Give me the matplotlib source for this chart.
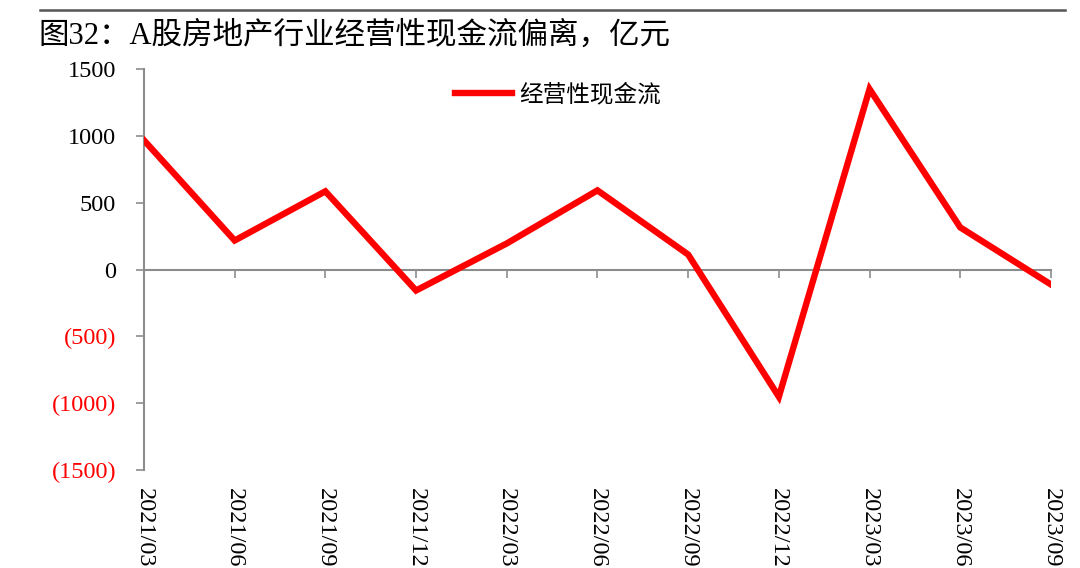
import matplotlib
matplotlib.use("Agg")
import matplotlib.pyplot as plt
from matplotlib.lines import Line2D

periods = ["2021/03", "2021/06", "2021/09", "2021/12", "2022/03", "2022/06",
           "2022/09", "2022/12", "2023/03", "2023/06", "2023/09"]
cash_flow = [967, 217, 585, -157, 195, 592, 112, -952, 1350, 315, -112]
y_ticks = [1500, 1000, 500, 0, -500, -1000, -1500]
y_labels = ["1500", "1000", "500", "0", "(500)", "(1000)", "(1500)"]

serif_cjk = ["Liberation Serif", "Noto Sans CJK SC"]
sans_cjk = ["Noto Sans CJK SC", "DejaVu Sans"]
grey = "#8c8c8c"

fig = plt.figure(figsize=(10.8, 5.68), dpi=100)
ax = fig.add_axes([0.1333, 0.1725, 0.9731 - 0.1333, 0.8785 - 0.1725])

x = list(range(len(periods)))
ax.plot(x, cash_flow, color="#ff0000", lw=4.6, label="经营性现金流",
        solid_joinstyle="miter", zorder=3)

ax.set_xlim(0, len(periods) - 1)
ax.set_ylim(-1500, 1500)

# y axis
ax.set_yticks(y_ticks)
ax.set_yticklabels(y_labels, family="Liberation Serif", fontsize=17.5)
for lab, v in zip(ax.get_yticklabels(), y_ticks):
    lab.set_color("#ff0000" if v < 0 else "black")
ax.tick_params(axis="y", direction="out", length=6, width=1.2, color=grey, pad=14)

for s in ["top", "right"]:
    ax.spines[s].set_visible(False)
ax.spines["left"].set_color(grey)
ax.spines["left"].set_linewidth(1.5)

# zero line with ticks
ax.spines["bottom"].set_position(("data", 0))
ax.spines["bottom"].set_color(grey)
ax.spines["bottom"].set_linewidth(1.5)
ax.set_xticks(x)
ax.set_xticklabels([])
ax.tick_params(axis="x", direction="out", length=6, width=1.2, color=grey)

# labels at the bottom
sec = ax.secondary_xaxis(0)
sec.spines["bottom"].set_visible(False)
sec.set_xticks(x)
sec.set_xticklabels(periods, rotation=270, family="Liberation Serif", fontsize=17.5)
sec.tick_params(axis="x", length=0, pad=13)

ax.legend(handles=[Line2D([0], [0], color="#ff0000", lw=4.6)],
          labels=["经营性现金流"], loc="center left",
          bbox_to_anchor=(455 / 1080, 1 - 95 / 568), bbox_transform=fig.transFigure,
          frameon=False, handlelength=2.4, handletextpad=0.3, borderpad=0,
          borderaxespad=0, prop={"family": sans_cjk, "size": 17})

fig.add_artist(Line2D([40 / 1080, 1065 / 1080], [1 - 10 / 568, 1 - 10 / 568],
                      transform=fig.transFigure, color="#555555", lw=1.8))
fig.text(38 / 1080, 1 - 36 / 568, "图32：A股房地产行业经营性现金流偏离，亿元",
         family=serif_cjk, fontsize=22, va="center", ha="left")

fig.savefig("out.png", dpi=100, facecolor="white")
